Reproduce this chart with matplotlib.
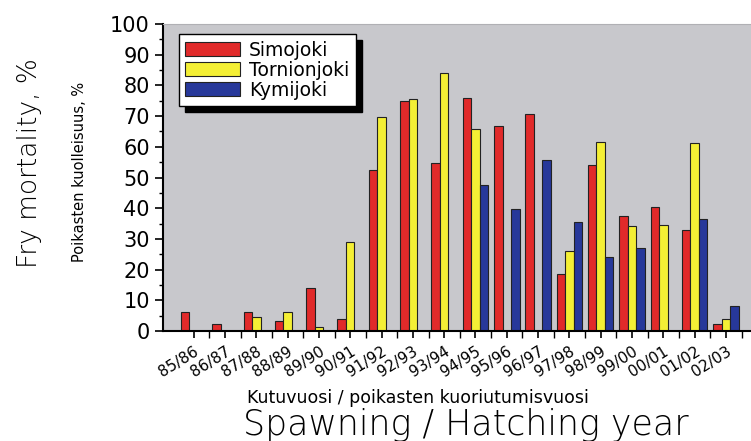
import numpy as np
import matplotlib
matplotlib.use("Agg")
import matplotlib.pyplot as plt
from matplotlib.ticker import MultipleLocator

years = ["85/86", "86/87", "87/88", "88/89", "89/90", "90/91", "91/92", "92/93", "93/94",
         "94/95", "95/96", "96/97", "97/98", "98/99", "99/00", "00/01", "01/02", "02/03"]
nan = np.nan
simojoki = [6.3, 2.4, 6.3, 3.3, 14.1, 3.8, 52.3, 75.0, 54.8,
            75.8, 66.7, 70.6, 18.7, 54.0, 37.6, 40.4, 32.9, 2.4]
tornionjoki = [nan, nan, 4.5, 6.3, 1.2, 29.0, 69.8, 75.5, 83.9,
               65.7, nan, nan, 25.9, 61.5, 34.1, 34.4, 61.3, 3.8]
kymijoki = [nan, nan, nan, nan, nan, nan, nan, nan, nan,
            47.4, 39.8, 55.8, 35.5, 24.1, 27.1, nan, 36.5, 8.3]

plt.rcParams['font.family'] = ['DejaVu Sans']

fig = plt.figure(figsize=(7.51, 4.41), dpi=100)
ax = fig.add_axes([163 / 751, 1 - 331 / 441, (751 - 163) / 751, (331 - 24) / 441])
ax.set_facecolor("#c8c8cc")

x = np.arange(len(years))
w = 0.272
ec = "#222222"
ax.bar(x - w, simojoki, w, color="#e12a2a", edgecolor=ec, linewidth=0.8, label="Simojoki")
ax.bar(x, tornionjoki, w, color="#f4ef35", edgecolor=ec, linewidth=0.8, label="Tornionjoki")
ax.bar(x + w, kymijoki, w, color="#27389a", edgecolor=ec, linewidth=0.8, label="Kymijoki")

ax.set_xlim(-0.98, 17.8)
ax.set_ylim(0, 100)
ax.yaxis.set_major_locator(MultipleLocator(10))
ax.yaxis.set_minor_locator(MultipleLocator(5))
ax.set_xticks(x)
ax.set_xticks(x + 0.5, minor=True)
ax.set_xticklabels(years, rotation=32, ha="right", va="top", rotation_mode="anchor", fontsize=11)
ax.tick_params(axis="y", labelsize=15, length=6, width=1.2)
ax.tick_params(axis="y", which="minor", length=3, width=1)
ax.tick_params(axis="x", length=5, width=1.2, pad=4)
ax.tick_params(axis="x", which="minor", length=5, width=1)
ax.spines["top"].set_color("#b0b0b4")
ax.spines["right"].set_visible(False)
ax.spines["left"].set_linewidth(1.5)
ax.spines["bottom"].set_linewidth(1.5)

leg = ax.legend(loc="upper left", bbox_to_anchor=(0.027, 0.967), fontsize=13.5,
                fancybox=False, framealpha=1, edgecolor="black",
                shadow={"ox": 4.5, "oy": -4.5, "color": "black", "alpha": 1},
                handlelength=2.9, handleheight=0.75, handletextpad=0.5,
                labelspacing=0.05, borderpad=0.35, borderaxespad=0)
leg.get_frame().set_linewidth(1)

fig.text(80 / 751, 1 - 172 / 441, "Poikasten kuolleisuus, %", rotation=90,
         ha="center", va="center", fontsize=10.5)
fig.text(30 / 751, 1 - 163 / 441, "Fry mortality, %", rotation=90,
         ha="center", va="center", fontsize=19, fontweight=200)
fig.text(418 / 751, 1 - 403 / 441, "Kutuvuosi / poikasten kuoriutumisvuosi",
         ha="center", va="baseline", fontsize=12.5)
fig.text(466 / 751, 1 - 435 / 441, "Spawning / Hatching year",
         ha="center", va="baseline", fontsize=25, fontweight=200)

fig.savefig("out.png", dpi=100)
